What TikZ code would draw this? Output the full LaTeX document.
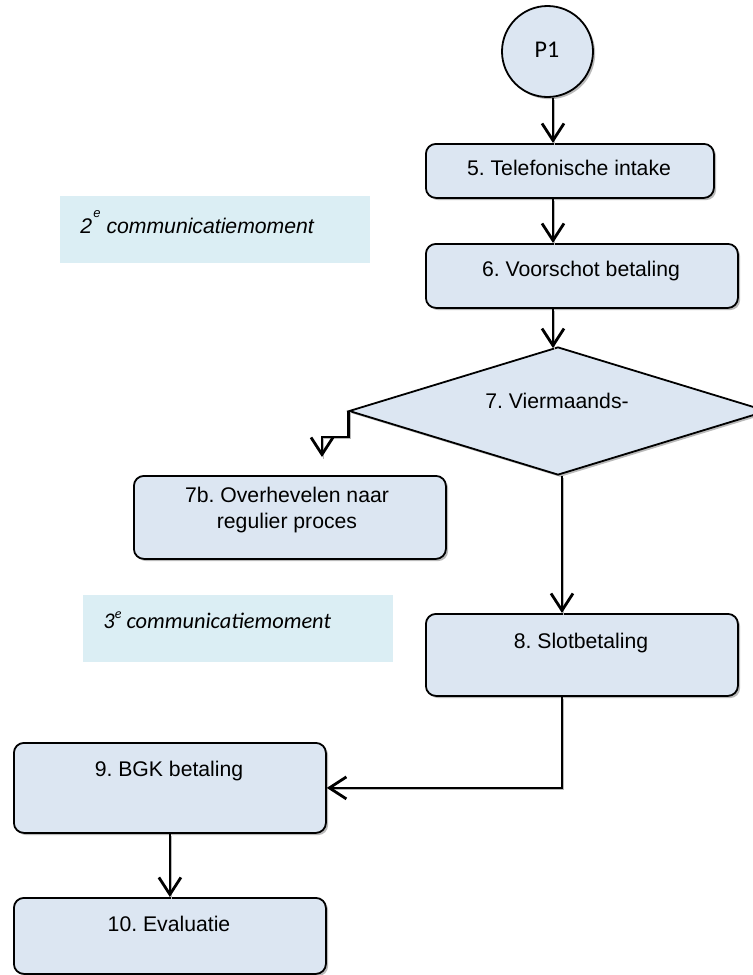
\documentclass[tikz,border=0pt]{standalone}
\usepackage{fontspec}
\setmainfont{Liberation Sans}
\newfontfamily\calib{Carlito}
\usetikzlibrary{shapes.geometric,arrows.meta,shadows}
\definecolor{boxfill}{HTML}{DCE6F2}
\definecolor{commfill}{HTML}{DBEEF4}
\frenchspacing
\tikzset{
  shad/.style={drop shadow={shadow xshift=1.1pt, shadow yshift=-1.1pt, fill=black!45, opacity=0.6}},
  procbox/.style={draw=black, line width=0.9pt, rounded corners=5pt, fill=boxfill, shad,
    inner sep=0pt, anchor=north west, rectangle},
  commbox/.style={draw=none, fill=commfill, inner sep=0pt, anchor=north west, rectangle},
  lbl/.style={anchor=base, inner sep=0pt, font=\fontsize{10.6}{13}\selectfont},
  conn/.style={line width=1.4pt, -{Straight Barb[length=8.5pt,width=11pt,line width=1.4pt]},
    preaction={draw=black!28, -, transform canvas={shift={(0.9pt,-0.9pt)}}}}
}
\begin{document}
\begin{tikzpicture}[x=0.5pt,y=-0.5pt]
\useasboundingbox (0,0) rectangle (753,975);
\begin{scope}
\clip (0,0) rectangle (753,975);
% communication boxes
\node[commbox, minimum width=155pt, minimum height=33.5pt] (cA) at (60,196) {};
\node[commbox, minimum width=155pt, minimum height=33.5pt] (cB) at (83,595) {};
\node[anchor=base west, inner sep=0pt, font=\fontsize{10.6}{13}\selectfont\itshape] (tA) at (80,233)
  {2\hspace{0.6pt}\raisebox{8pt}{\fontsize{6.5}{6.5}\selectfont e} communicatiemoment};
\node[anchor=base west, inner sep=0pt, font=\calib\fontsize{11.2}{13}\selectfont\itshape] (tB) at (103,628)
  {3\raisebox{5pt}{\fontsize{7}{7}\selectfont e} communicatiemoment};

% process shapes
\node[circle, draw=black, line width=0.9pt, fill=boxfill, shad, minimum size=45.5pt, inner sep=0pt] (p1) at (547.5,51.5) {};
\node[inner sep=0pt, font=\calib\fontsize{12}{14}\selectfont] (tp1) at (547,50) {P1};

\node[procbox, minimum width=144pt, minimum height=27pt] (b5) at (425,143) {};
\node[lbl] (t5) at (569,175) {5. Telefonische intake};

\node[procbox, minimum width=156pt, minimum height=32pt] (b6) at (425,243) {};
\node[lbl] (t6) at (581,276.5) {6. Voorschot betaling};

\node[diamond, draw=black, line width=0.9pt, fill=boxfill, shad, minimum width=209pt, minimum height=64pt, inner sep=0pt] (d7) at (558,411) {};
\node[lbl] (t7) at (557,408) {7. Viermaands-};

\node[procbox, minimum width=156pt, minimum height=41.5pt] (b7b) at (133,475) {};
\node[lbl, align=center, font=\fontsize{10.6}{13}\selectfont, anchor=base] (t7b) at (287,528)
  {7b. Overhevelen naar\\regulier proces};

\node[procbox, minimum width=156pt, minimum height=41pt] (b8) at (425,613) {};
\node[lbl] (t8) at (581,648) {8. Slotbetaling};

\node[procbox, minimum width=156pt, minimum height=45pt] (b9) at (13,742) {};
\node[lbl] (t9) at (169,776.5) {9. BGK betaling};

\node[procbox, minimum width=156pt, minimum height=38pt] (b10) at (13,897) {};
\node[lbl] (t10) at (169,931.5) {10. Evaluatie};

% helper coordinates
\coordinate (c1) at (553,0);
\coordinate (c2) at (562,0);
\coordinate (e1) at (322,437);
\coordinate (e2) at (322,457);

% connectors
\draw[conn] (p1.south -| c1) -- (b5.north -| c1);
\draw[conn] (b5.south -| c1) -- (b6.north -| c1);
\draw[conn] (b6.south -| c1) -- ([yshift=-1pt]d7.north -| c1);
\draw[conn] (d7.south -| c2) -- (b8.north -| c2);
\draw[conn] (b8.south -| c2) |- (b9.east);
\draw[conn] (b9.south) -- (b10.north);
\draw[conn] (d7.west) |- (e1) -- (e2);
\end{scope}
\end{tikzpicture}
\end{document}
